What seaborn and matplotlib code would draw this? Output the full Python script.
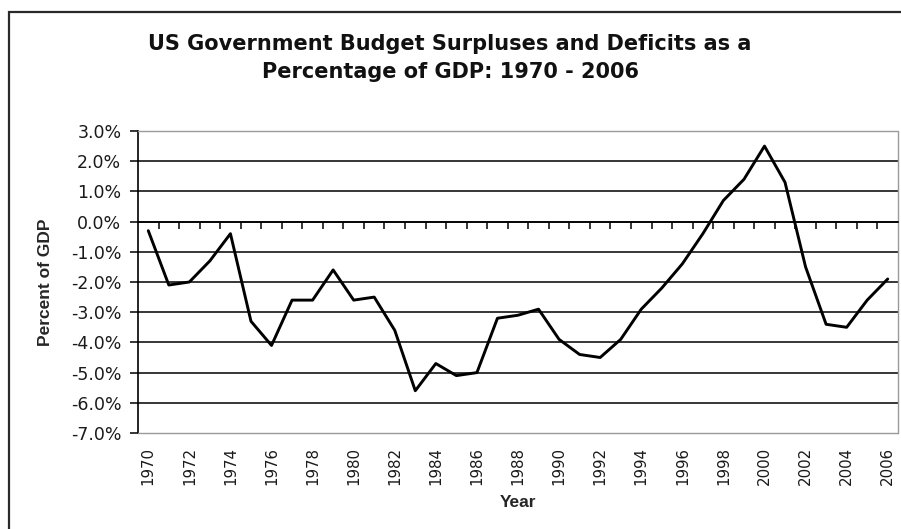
import matplotlib
matplotlib.use("Agg")
import matplotlib.pyplot as plt
import matplotlib.ticker as mticker
from matplotlib.patches import Rectangle
import seaborn as sns
import pandas as pd

years = list(range(1970, 2007))
balance_pct = [
    -0.3, -2.1, -2.0, -1.3, -0.4, -3.3, -4.1, -2.6, -2.6, -1.6,
    -2.6, -2.5, -3.6, -5.6, -4.7, -5.1, -5.0, -3.2, -3.1, -2.9,
    -3.9, -4.4, -4.5, -3.9, -2.9, -2.2, -1.4, -0.4, 0.7, 1.4,
    2.5, 1.3, -1.5, -3.4, -3.5, -2.6, -1.9,
]
y_ticks = [-7, -6, -5, -4, -3, -2, -1, 0, 1, 2, 3]
x_tick_years = years[::2]

df = pd.DataFrame({"Year": years, "Percent of GDP": balance_pct})

sns.set_theme(style="white")
plt.rcParams["font.family"] = ["Liberation Sans", "DejaVu Sans"]

fig = plt.figure(figsize=(9.01, 5.29), dpi=100)
fig.patch.set_facecolor("white")

# outer chart frame
fig.patches.append(Rectangle((9 / 901, -0.05), 1.1, (529 - 12) / 529 + 0.05,
                             transform=fig.transFigure, fill=False,
                             edgecolor="#2a2a2a", linewidth=1.6, zorder=0))

ax = fig.add_axes([138 / 901, 96 / 529, 760 / 901, 302 / 529])
ax.set_facecolor("white")

sns.lineplot(data=df, x="Year", y="Percent of GDP", ax=ax,
             color="black", linewidth=2.1, zorder=5)

ax.set_xlim(years[0] - 0.5, years[-1] + 0.5)
ax.set_ylim(y_ticks[0], y_ticks[-1])
ax.set_yticks(y_ticks)
ax.yaxis.set_major_formatter(mticker.FuncFormatter(lambda v, p: f"{v:.1f}%"))
ax.set_xticks(x_tick_years)
ax.set_xticklabels([str(y) for y in x_tick_years], rotation=90)
for lbl in ax.get_yticklabels() + ax.get_xticklabels():
    lbl.set_family("DejaVu Sans")

ax.grid(axis="y", color="black", linewidth=1.1, zorder=1)
ax.grid(axis="x", visible=False)
gl = ax.get_ygridlines()
gl[0].set_visible(False)
gl[-1].set_visible(False)

for side in ("top", "right", "bottom"):
    ax.spines[side].set_visible(True)
    ax.spines[side].set_color("#9a9a9a")
    ax.spines[side].set_linestyle((0, (1, 1)))
    ax.spines[side].set_linewidth(1.0)
ax.spines["left"].set_color("black")
ax.spines["left"].set_linewidth(1.2)

ax.tick_params(axis="y", which="major", direction="out", length=6, width=1.1,
               color="black", labelsize=12.5, pad=6, left=True, labelcolor="#1a1a1a")
ax.tick_params(axis="x", which="major", length=0, labelsize=10.8, pad=10,
               labelcolor="#1a1a1a")

# category axis drawn at zero with ticks between the years
axz = ax.twiny()
axz.set_xlim(ax.get_xlim())
axz.xaxis.set_ticks_position("bottom")
axz.spines["bottom"].set_position(("data", 0))
axz.spines["bottom"].set_visible(True)
axz.spines["bottom"].set_color("black")
axz.spines["bottom"].set_linewidth(1.2)
for side in ("top", "right", "left"):
    axz.spines[side].set_visible(False)
axz.set_xticks([y - 0.5 for y in years[1:]])
axz.set_xticklabels([])
axz.tick_params(axis="x", direction="out", length=5, width=1.1, color="black",
                bottom=True, top=False)

ax.set_ylabel("Percent of GDP", fontsize=12.5, fontweight="bold", labelpad=13)
ax.set_xlabel("Year", fontsize=12.5, fontweight="bold", labelpad=7)

fig.text(450 / 901, 1 - 58 / 529,
         "US Government Budget Surpluses and Deficits as a\nPercentage of GDP: 1970 - 2006",
         ha="center", va="center", fontsize=15, family="DejaVu Sans",
         fontweight="bold", linespacing=1.5, color="#111111")

fig.savefig("out.png", dpi=100, facecolor="white")
